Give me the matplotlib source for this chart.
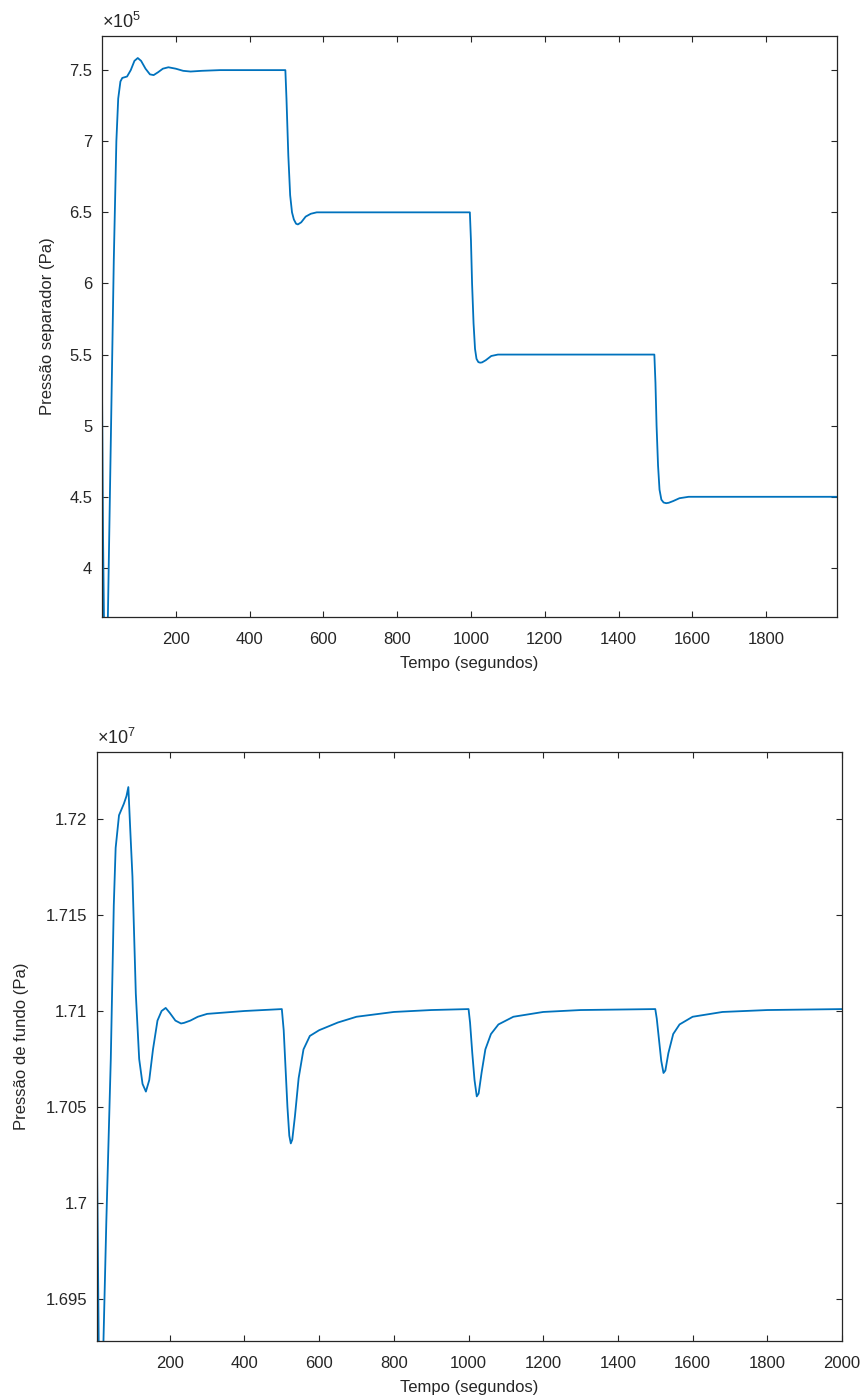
import matplotlib
matplotlib.use("Agg")
import matplotlib.pyplot as plt
from matplotlib.ticker import FuncFormatter

plt.rcParams["font.family"] = ["Liberation Sans", "DejaVu Sans"]
plt.rcParams["mathtext.fontset"] = "custom"
plt.rcParams["mathtext.rm"] = "Liberation Sans"
plt.rcParams["mathtext.it"] = "Liberation Sans"

LINE = "#0072BD"
DARK = "#262626"

# separator pressure (Pa)
t_sep = [0, 3, 6, 12, 16, 24, 32, 39, 44, 50, 55, 68, 78, 88, 97, 106, 118, 130,
         140, 152, 165, 180, 200, 220, 240, 270, 320, 497,
         500, 505, 510, 515, 520, 526, 531, 540, 552, 566, 582, 997,
         1000, 1003, 1007, 1011, 1015, 1020, 1025, 1030, 1040, 1055, 1073, 1497,
         1500, 1503, 1507, 1511, 1516, 1522, 1529, 1536, 1548, 1565, 1590, 1992]
p_sep = [5.3e5, 4.2e5, 3.5e5, 3.5e5, 3.655e5, 4.9e5, 6.16e5, 7.0e5, 7.3e5, 7.42e5,
         7.445e5, 7.455e5, 7.5e5, 7.565e5, 7.585e5, 7.565e5, 7.51e5, 7.47e5,
         7.465e5, 7.485e5, 7.51e5, 7.52e5, 7.51e5, 7.495e5, 7.49e5, 7.495e5, 7.5e5, 7.5e5,
         7.3e5, 6.9e5, 6.62e5, 6.5e5, 6.45e5, 6.42e5, 6.415e5, 6.43e5, 6.47e5, 6.49e5, 6.5e5, 6.5e5,
         6.3e5, 6.0e5, 5.72e5, 5.54e5, 5.47e5, 5.447e5, 5.443e5, 5.445e5, 5.46e5, 5.49e5, 5.5e5, 5.5e5,
         5.3e5, 5.0e5, 4.72e5, 4.55e5, 4.48e5, 4.46e5, 4.455e5, 4.458e5, 4.47e5, 4.49e5, 4.5e5, 4.5e5]

# bottom-hole pressure (Pa)
t_fundo = [5, 10, 16, 22, 30, 42, 50, 55, 64, 77, 84, 89, 94, 100, 109, 118, 127, 136,
           145, 155, 167, 178, 189, 200, 215, 230, 238, 255, 275, 300, 400, 500,
           505, 510, 515, 520, 524, 528, 535, 545, 558, 575, 600, 650, 700, 800, 900, 1000,
           1004, 1010, 1016, 1022, 1027, 1035, 1045, 1060, 1080, 1120, 1200, 1300, 1500,
           1504, 1510, 1516, 1522, 1527, 1535, 1548, 1565, 1600, 1680, 1800, 2000]
p_fundo = [1.7027e7, 1.692e7, 1.690e7, 1.6925e7, 1.699e7, 1.7075e7, 1.7155e7, 1.7185e7,
           1.7202e7, 1.7208e7, 1.7212e7, 1.72167e7, 1.7195e7, 1.717e7, 1.7109e7, 1.7075e7,
           1.7062e7, 1.7058e7, 1.7064e7, 1.708e7, 1.7095e7, 1.71e7, 1.71016e7, 1.7099e7,
           1.7095e7, 1.70935e7, 1.70938e7, 1.7095e7, 1.7097e7, 1.70985e7, 1.71e7, 1.7101e7,
           1.709e7, 1.707e7, 1.705e7, 1.7035e7, 1.7031e7, 1.7033e7, 1.7045e7, 1.7065e7,
           1.708e7, 1.7087e7, 1.709e7, 1.7094e7, 1.7097e7, 1.70995e7, 1.71005e7, 1.7101e7,
           1.7094e7, 1.7078e7, 1.7064e7, 1.70555e7, 1.7057e7, 1.7068e7, 1.708e7, 1.7088e7,
           1.7093e7, 1.7097e7, 1.70995e7, 1.71005e7, 1.7101e7,
           1.7096e7, 1.7085e7, 1.7074e7, 1.70677e7, 1.7069e7, 1.7078e7, 1.7088e7, 1.7093e7,
           1.7097e7, 1.70995e7, 1.71005e7, 1.7101e7]

x_ticks = [200, 400, 600, 800, 1000, 1200, 1400, 1600, 1800, 2000]
sep_yticks = [4e5, 4.5e5, 5e5, 5.5e5, 6e5, 6.5e5, 7e5, 7.5e5]
fundo_yticks = [1.695e7, 1.7e7, 1.705e7, 1.71e7, 1.715e7, 1.72e7]


def style_axes(ax, scale, exp):
    ax.tick_params(direction="in", length=4, width=0.8, top=True, right=True,
                   labelsize=12, colors=DARK)
    ax.tick_params(axis="x", pad=11)
    ax.tick_params(axis="y", pad=7)
    for s in ax.spines.values():
        s.set_color(DARK)
        s.set_linewidth(0.9)
    ax.yaxis.set_major_formatter(FuncFormatter(lambda v, p: f"{v / scale:g}"))
    ax.text(0.0, 1.006, r"$\times10^{%d}$" % exp, transform=ax.transAxes,
            ha="left", va="bottom", fontsize=13, color=DARK)


fig = plt.figure(figsize=(8.62, 14), dpi=100)

ax1 = fig.add_axes([0.1183, 0.5593, 0.8527, 0.4150])
ax1.plot(t_sep, p_sep, color=LINE, lw=1.3)
ax1.set_xticks(x_ticks)
ax1.set_yticks(sep_yticks)
ax1.set_xlim(0, 1992)
ax1.set_ylim(3.655e5, 7.74e5)
style_axes(ax1, 1e5, 5)
ax1.set_xlabel("Tempo (segundos)", fontsize=12, color=DARK)
ax1.set_ylabel("Pressão separador (Pa)", fontsize=12, color=DARK)
ax1.xaxis.set_label_coords(0.5, -0.067)
ax1.yaxis.set_label_coords(-0.064, 0.5)

ax2 = fig.add_axes([0.1125, 0.0421, 0.8643, 0.4208])
ax2.plot(t_fundo, p_fundo, color=LINE, lw=1.3)
ax2.set_xticks(x_ticks)
ax2.set_yticks(fundo_yticks)
ax2.set_xlim(5, 2000)
ax2.set_ylim(1.6928e7, 1.7235e7)
style_axes(ax2, 1e7, 7)
ax2.set_xlabel("Tempo (segundos)", fontsize=12, color=DARK)
ax2.set_ylabel("Pressão de fundo (Pa)", fontsize=12, color=DARK)
ax2.xaxis.set_label_coords(0.5, -0.066)
ax2.yaxis.set_label_coords(-0.091, 0.5)

fig.savefig("out.png", dpi=100, facecolor="white")
